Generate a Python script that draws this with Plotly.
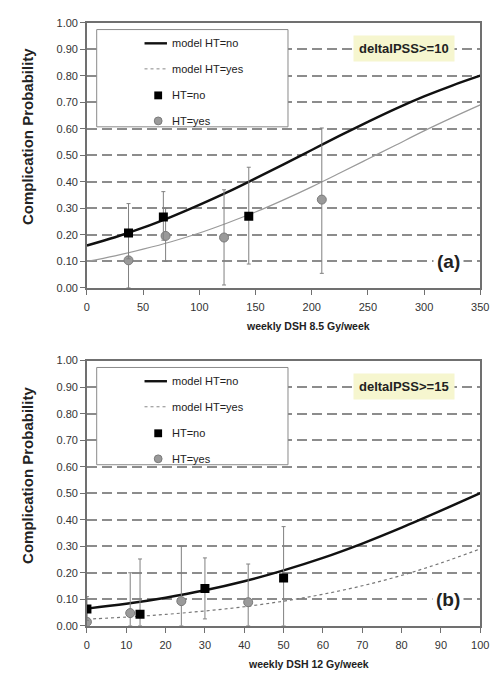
import plotly.graph_objects as go

# ---------------- data: panel (a) ----------------
a_model_x = [0, 25, 50, 75, 100, 125, 150, 175, 200, 225, 250, 275, 300, 325, 350]
a_model_no = [0.160, 0.191, 0.227, 0.268, 0.313, 0.361, 0.413, 0.466, 0.520, 0.574, 0.626, 0.676, 0.722, 0.763, 0.800]
a_model_yes = [0.100, 0.121, 0.146, 0.174, 0.207, 0.245, 0.286, 0.332, 0.381, 0.433, 0.486, 0.539, 0.592, 0.642, 0.690]

a_no_x = [37, 68, 144]
a_no_y = [0.207, 0.267, 0.270]
a_no_hi = [0.318, 0.363, 0.455]
a_no_lo = [0.110, 0.180, 0.090]

a_yes_x = [37, 70, 122, 209]
a_yes_y = [0.104, 0.196, 0.190, 0.333]
a_yes_hi = [0.200, 0.300, 0.370, 0.603]
a_yes_lo = [0.000, 0.100, 0.011, 0.055]

# ---------------- data: panel (b) ----------------
b_model_x = [0, 10, 20, 30, 40, 50, 60, 70, 80, 90, 100]
b_model_no = [0.065, 0.083, 0.106, 0.134, 0.168, 0.209, 0.256, 0.310, 0.370, 0.434, 0.500]
b_model_yes = [0.025, 0.033, 0.043, 0.056, 0.072, 0.093, 0.119, 0.151, 0.190, 0.237, 0.290]

b_no_x = [0, 13.5, 30, 50]
b_no_y = [0.063, 0.044, 0.141, 0.180]
b_no_hi = [0.110, 0.252, 0.256, 0.374]
b_no_lo = [0.020, 0.000, 0.026, 0.000]

b_yes_x = [0, 11, 24, 41]
b_yes_y = [0.015, 0.048, 0.093, 0.089]
b_yes_hi = [0.060, 0.200, 0.300, 0.233]
b_yes_lo = [0.000, 0.000, 0.000, 0.000]

a_xticks = [0, 50, 100, 150, 200, 250, 300, 350]
b_xticks = [0, 10, 20, 30, 40, 50, 60, 70, 80, 90, 100]
y_ticks = [0.0, 0.1, 0.2, 0.3, 0.4, 0.5, 0.6, 0.7, 0.8, 0.9, 1.0]

legend_labels = ["model HT=no", "model HT=yes", "HT=no", "HT=yes"]

W, H = 500, 677
FONT = "Liberation Sans, Arial, sans-serif"
AXC = "#707070"


def px(x):
    return x / W


def py(y):
    return 1 - y / H


def diffs(v, ref, up=True):
    return [(a - b) if up else (b - a) for a, b in zip(v, ref)]


fig = go.Figure()


def add_panel(xa, ya, mx, mno, myes, yes_dash, yes_color, nx, ny, nhi, nlo, yx, yy, yhi, ylo):
    fig.add_trace(go.Scatter(x=mx, y=mno, mode="lines", line=dict(color="#111111", width=2.4, shape="spline"),
                             name="model HT=no", xaxis=xa, yaxis=ya, showlegend=False))
    fig.add_trace(go.Scatter(x=mx, y=myes, mode="lines",
                             line=dict(color=yes_color, width=1.2, dash=yes_dash, shape="spline"),
                             name="model HT=yes", xaxis=xa, yaxis=ya, showlegend=False))
    fig.add_trace(go.Scatter(x=yx, y=yy, mode="markers", name="HT=yes", xaxis=xa, yaxis=ya, showlegend=False,
                             marker=dict(symbol="circle", size=9, color="#9a9a9a", line=dict(color="#7a7a7a", width=1)),
                             error_y=dict(type="data", symmetric=False, array=diffs(yhi, yy), arrayminus=diffs(ylo, yy, False),
                                          color="#808080", thickness=1, width=2)))
    fig.add_trace(go.Scatter(x=nx, y=ny, mode="markers", name="HT=no", xaxis=xa, yaxis=ya, showlegend=False,
                             marker=dict(symbol="square", size=9, color="#000000"),
                             error_y=dict(type="data", symmetric=False, array=diffs(nhi, ny), arrayminus=diffs(nlo, ny, False),
                                          color="#808080", thickness=1, width=2)))


add_panel("x", "y", a_model_x, a_model_no, a_model_yes, "solid", "#9a9a9a",
          a_no_x, a_no_y, a_no_hi, a_no_lo, a_yes_x, a_yes_y, a_yes_hi, a_yes_lo)
add_panel("x2", "y2", b_model_x, b_model_no, b_model_yes, "dot", "#777777",
          b_no_x, b_no_y, b_no_hi, b_no_lo, b_yes_x, b_yes_y, b_yes_hi, b_yes_lo)

xcommon = dict(showline=True, mirror=True, linecolor=AXC, linewidth=1.5, ticks="outside", ticklen=5,
               tickcolor=AXC, tickwidth=1, showgrid=False, zeroline=False, ticklabelstandoff=3,
               tickfont=dict(family=FONT, size=11, color="#333333"))
ycommon = dict(showline=True, mirror=True, linecolor=AXC, linewidth=1.5, ticks="outside", ticklen=5,
               tickcolor=AXC, tickwidth=1, showgrid=True, gridcolor="#8c8c8c", gridwidth=1.5,
               griddash="10px,5px", zeroline=False, range=[0, 1], tickvals=y_ticks, tickformat=".2f",
               tickfont=dict(family=FONT, size=11, color="#333333"))

fig.update_layout(
    width=W, height=H, margin=dict(l=0, r=0, t=0, b=0),
    paper_bgcolor="white", plot_bgcolor="white", showlegend=False,
    xaxis=dict(domain=[px(86), px(489)], range=[0, 350], tickvals=a_xticks, anchor="y", **xcommon),
    yaxis=dict(domain=[py(287), py(17)], anchor="x", **ycommon),
    xaxis2=dict(domain=[px(86), px(489)], range=[0, 100], tickvals=b_xticks, anchor="y2", **xcommon),
    yaxis2=dict(domain=[py(631), py(361)], anchor="x2", **ycommon),
)

shapes = []
annos = []


def panel_deco(top, xtitle, tag, label, ytitle_cy, xtitle_y):
    # legend box
    shapes.append(dict(type="rect", xref="paper", yref="paper", x0=px(96), x1=px(292),
                       y0=py(top + 106), y1=py(top + 7), line=dict(color="#8a8a8a", width=1), fillcolor="white",
                       layer="above"))
    rows = [top + 21, top + 47, top + 74, top + 100]
    shapes.append(dict(type="line", xref="paper", yref="paper", x0=px(145), x1=px(168), y0=py(rows[0]), y1=py(rows[0]),
                       line=dict(color="#111111", width=2.4), layer="above"))
    shapes.append(dict(type="line", xref="paper", yref="paper", x0=px(145), x1=px(168), y0=py(rows[1]), y1=py(rows[1]),
                       line=dict(color="#888888", width=1, dash="dot"), layer="above"))
    shapes.append(dict(type="rect", xref="paper", yref="paper", x0=px(155), x1=px(163), y0=py(rows[2] + 4),
                       y1=py(rows[2] - 4), line=dict(width=0), fillcolor="#000000", layer="above"))
    shapes.append(dict(type="circle", xref="paper", yref="paper", x0=px(155), x1=px(163), y0=py(rows[3] + 4),
                       y1=py(rows[3] - 4), line=dict(color="#7a7a7a", width=1), fillcolor="#9a9a9a", layer="above"))
    for r, t in zip(rows, legend_labels):
        annos.append(dict(xref="paper", yref="paper", x=px(171), y=py(r), xanchor="left", yanchor="middle",
                          text=t, showarrow=False, font=dict(family=FONT, size=11, color="#222222")))
    # label with yellow background
    annos.append(dict(xref="paper", yref="paper", x=px(411), y=py(top + 26), xanchor="center", yanchor="middle",
                      text="<b>%s</b>" % label, showarrow=False, bgcolor="#f6f6cf", borderpad=5,
                      font=dict(family=FONT, size=13, color="#222222")))
    # panel tag
    annos.append(dict(xref="paper", yref="paper", x=px(456), y=py(top + 243), xanchor="center", yanchor="middle",
                      text="<b>%s</b>" % tag, showarrow=False, bgcolor="white", borderpad=3,
                      font=dict(family=FONT, size=19, color="#222222")))
    # axis titles
    annos.append(dict(xref="paper", yref="paper", x=px(25), y=py(ytitle_cy), xanchor="center", yanchor="middle",
                      text="<b>Complication Probability</b>", textangle=-90, showarrow=False,
                      font=dict(family=FONT, size=15, color="#222222")))
    annos.append(dict(xref="paper", yref="paper", x=px(313), y=py(xtitle_y), xanchor="center", yanchor="middle",
                      text="<b>%s</b>" % xtitle, showarrow=False,
                      font=dict(family=FONT, size=10.5, color="#222222")))


panel_deco(17, "weekly DSH 8.5 Gy/week", "(a)", "deltaIPSS>=10", 133, 326)
panel_deco(361, "weekly DSH 12 Gy/week", "(b)", "deltaIPSS>=15", 478, 670)

fig.update_layout(shapes=shapes, annotations=annos)
fig.write_html("out.html")
